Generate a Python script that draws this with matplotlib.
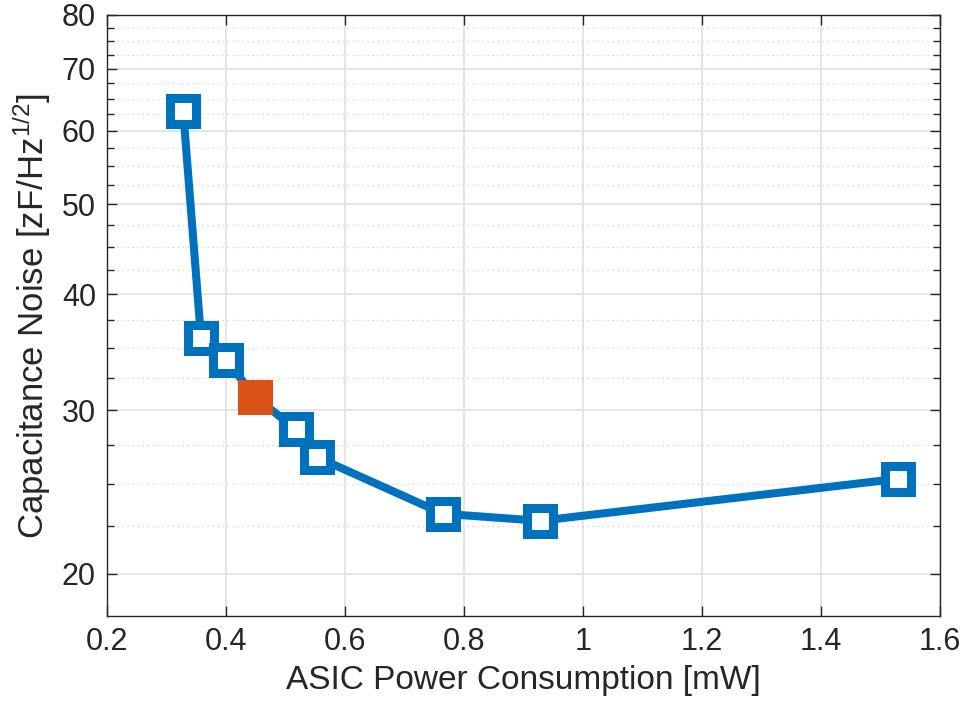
import numpy as np
import matplotlib
matplotlib.use("Agg")
import matplotlib.pyplot as plt
from matplotlib.ticker import FixedLocator, NullFormatter

plt.rcParams['font.family'] = ['Liberation Sans', 'DejaVu Sans']
plt.rcParams['mathtext.fontset'] = 'custom'
plt.rcParams['mathtext.rm'] = 'Liberation Sans'
plt.rcParams['mathtext.default'] = 'regular'

# data
power = [0.328, 0.358, 0.400, 0.449, 0.518, 0.553, 0.765, 0.928, 1.529]
noise = [63.1, 35.9, 34.0, 31.0, 28.6, 26.7, 23.2, 22.8, 25.3]
chosen_power = [0.449]
chosen_noise = [31.0]

y_major = [20, 30, 40, 50, 60, 70, 80]
y_minor = [22.5, 25, 27.5, 32.5, 35, 37.5, 42.5, 45, 47.5,
           52.5, 55, 57.5, 62.5, 65, 67.5, 72.5, 75, 77.5]
x_ticks = [0.2, 0.4, 0.6, 0.8, 1.0, 1.2, 1.4, 1.6]
x_labels = ["0.2", "0.4", "0.6", "0.8", "1", "1.2", "1.4", "1.6"]

blue = "#0072BD"
orange = "#D95319"

fig = plt.figure(figsize=(9.65, 7.13), dpi=100)
ax = fig.add_axes([0.1109, 0.136, 0.863, 0.843])

ax.plot(power, noise, color=blue, lw=5.8, marker="s", ms=18.5,
        mfc="white", mec=blue, mew=6.5, solid_joinstyle="round", zorder=3)
# highlighted design point
ax.plot(chosen_power, chosen_noise, linestyle="none", marker="s", ms=18.5,
        mfc=orange, mec=orange, mew=6.5, zorder=4)

ax.set_yscale("log")
ax.set_xlim(0.2, 1.6)
ax.set_ylim(18, 80)
ax.xaxis.set_major_locator(FixedLocator(x_ticks))
ax.set_xticklabels(x_labels)
ax.xaxis.set_minor_locator(FixedLocator([]))
ax.yaxis.set_major_locator(FixedLocator(y_major))
ax.yaxis.set_minor_locator(FixedLocator(y_minor))
ax.set_yticklabels([str(v) for v in y_major])
ax.yaxis.set_minor_formatter(NullFormatter())

ax.grid(True, which="major", color="#e3e3e3", lw=1.3, zorder=0)
ax.grid(True, which="minor", axis="y", color="#cfcfcf", lw=0.9,
        linestyle=(0, (1, 3)), zorder=0)
ax.set_axisbelow(True)

ax.tick_params(which="both", direction="in", top=True, right=True,
               color="#262626", width=1.0, labelsize=22, labelcolor="#262626",
               pad=8)
ax.tick_params(which="major", length=7)
ax.tick_params(which="minor", length=5)
for s in ax.spines.values():
    s.set_color("#262626")
    s.set_linewidth(1.0)

ax.set_xlabel("ASIC Power Consumption [mW]", fontsize=24, color="#262626",
              labelpad=6)
ax.set_ylabel(r"Capacitance Noise [zF/Hz$^{1/2}$]", fontsize=25,
              color="#262626", labelpad=6)

plt.savefig("out.png", dpi=100)
